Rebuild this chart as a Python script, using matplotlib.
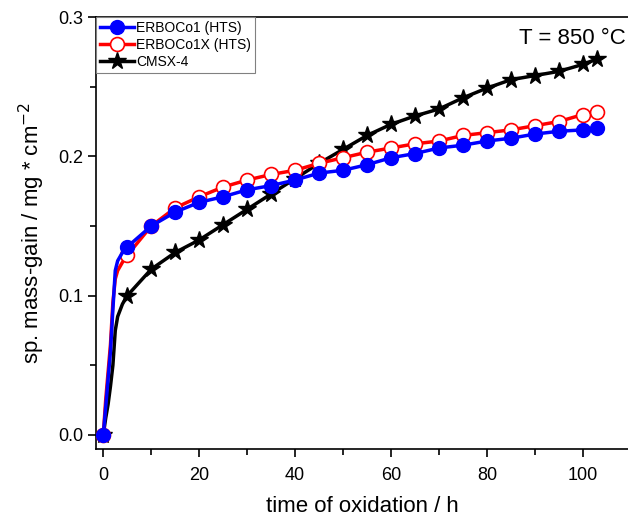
import matplotlib
matplotlib.use("Agg")
import matplotlib.pyplot as plt
from matplotlib.ticker import MultipleLocator

plt.rcParams['font.family'] = ['Liberation Sans', 'DejaVu Sans']

# time points (h)
time_h = [0, 0.5, 1, 1.5, 2, 2.5, 3, 4, 5, 10, 15, 20, 25, 30, 35, 40, 45, 50,
          55, 60, 65, 70, 75, 80, 85, 90, 95, 100, 103]
# indices of measured points shown with markers
marker_idx = [0] + list(range(8, len(time_h)))

erboco1 = [0, 0.02, 0.04, 0.06, 0.09, 0.118, 0.125, 0.131, 0.135, 0.150, 0.160,
           0.167, 0.171, 0.176, 0.179, 0.183, 0.188, 0.190, 0.194, 0.199, 0.202,
           0.206, 0.208, 0.211, 0.213, 0.216, 0.218, 0.219, 0.220]
erboco1x = [0, 0.025, 0.045, 0.065, 0.095, 0.112, 0.118, 0.124, 0.129, 0.150, 0.163,
            0.171, 0.178, 0.183, 0.187, 0.190, 0.195, 0.199, 0.203, 0.206, 0.209,
            0.211, 0.215, 0.217, 0.219, 0.222, 0.225, 0.230, 0.232]
cmsx4 = [0, 0.012, 0.022, 0.035, 0.05, 0.075, 0.085, 0.094, 0.100, 0.119, 0.131,
         0.140, 0.151, 0.162, 0.173, 0.184, 0.195, 0.205, 0.215, 0.223, 0.229,
         0.234, 0.242, 0.249, 0.255, 0.258, 0.261, 0.266, 0.270]

fig = plt.figure(figsize=(6.28, 5.16), dpi=100)
ax = fig.add_axes([0.153, 0.130, 0.847, 0.837])

ax.plot(time_h, cmsx4, color='black', lw=2.5, marker='*', ms=13,
        markevery=marker_idx, label='CMSX-4', zorder=3)
ax.plot(time_h, erboco1x, color='red', lw=2.5, marker='o', ms=10,
        mfc='white', mec='red', mew=1.2, markevery=marker_idx,
        label='ERBOCo1X (HTS)', zorder=4)
ax.plot(time_h, erboco1, color='blue', lw=2.5, marker='o', ms=10,
        markevery=marker_idx, label='ERBOCo1 (HTS)', zorder=5)

ax.set_xlim(-1.5, 109.4)
ax.set_ylim(-0.01, 0.3)
ax.xaxis.set_major_locator(MultipleLocator(20))
ax.xaxis.set_minor_locator(MultipleLocator(10))
ax.yaxis.set_major_locator(MultipleLocator(0.1))
ax.yaxis.set_minor_locator(MultipleLocator(0.05))
ax.tick_params(which='major', direction='out', length=6, width=1.2, labelsize=13)
ax.tick_params(axis='x', which='major', pad=7)
ax.tick_params(which='minor', direction='out', length=4, width=1.2)
ax.set_xticks([0, 20, 40, 60, 80, 100])
ax.set_yticks([0.0, 0.1, 0.2, 0.3])
ax.set_yticklabels(['0.0', '0.1', '0.2', '0.3'])
for s in ['left', 'bottom', 'top']:
    ax.spines[s].set_linewidth(1.2)
ax.spines['right'].set_visible(False)

ax.set_xlabel('time of oxidation / h', fontsize=16, labelpad=9)
ax.set_ylabel('sp. mass-gain / mg * cm$^{-2}$', fontsize=16, labelpad=8)

ax.text(0.995, 0.975, 'T = 850 °C', transform=ax.transAxes, ha='right', va='top',
        fontsize=16)

handles, labels = ax.get_legend_handles_labels()
order = [2, 1, 0]
leg = ax.legend([handles[i] for i in order], [labels[i] for i in order],
                loc='upper left', bbox_to_anchor=(0.0, 1.0), fontsize=10,
                frameon=True, fancybox=False, edgecolor='gray', framealpha=1,
                borderpad=0.3, labelspacing=0.2, handlelength=2.4,
                handletextpad=0.2, borderaxespad=0.0)
leg.get_frame().set_linewidth(0.8)

fig.savefig('out.png', dpi=100)
